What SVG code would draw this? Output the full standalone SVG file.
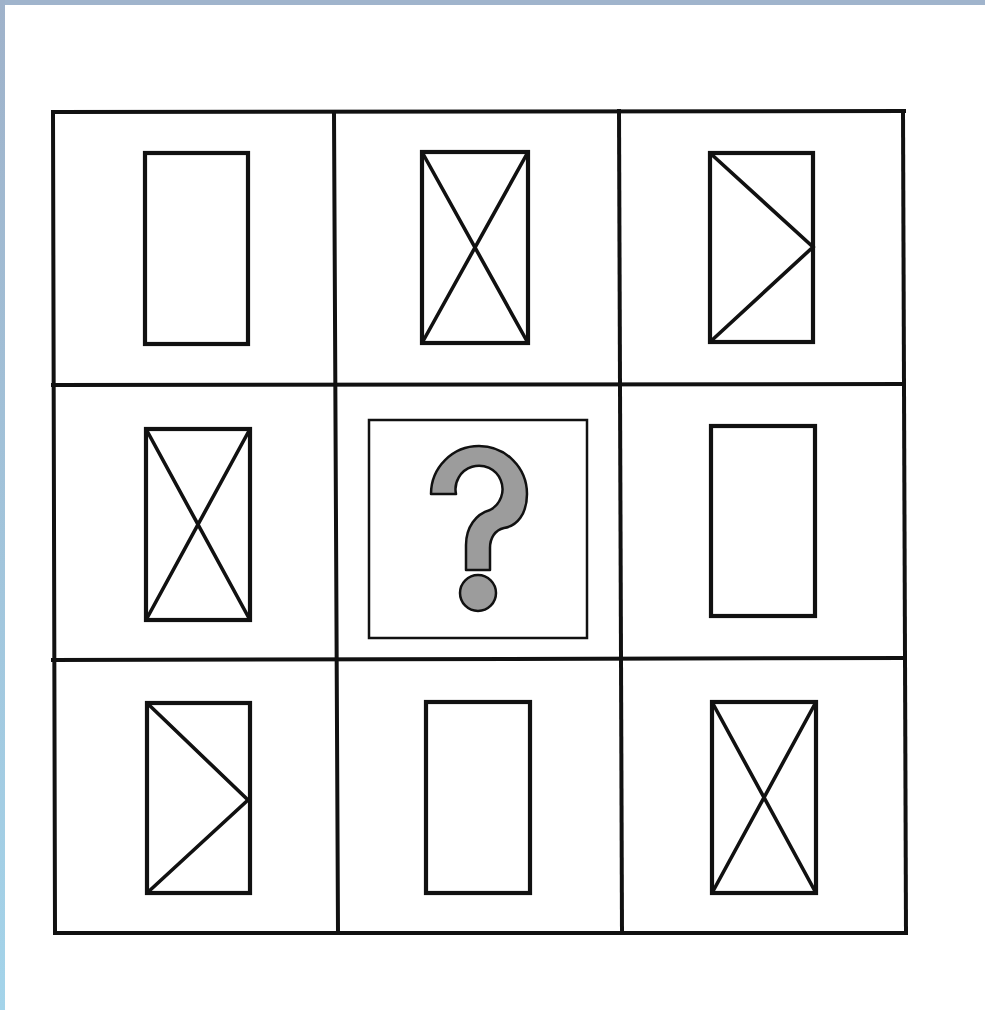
<svg xmlns="http://www.w3.org/2000/svg" width="985" height="1010" viewBox="0 0 985 1010">
<defs>
<linearGradient id="side" x1="0" y1="0" x2="0" y2="1">
<stop offset="0" stop-color="#9fb2ca"/>
<stop offset="1" stop-color="#a4d4ea"/>
</linearGradient>
<style>
.g{stroke:#111;stroke-width:4;fill:none;stroke-linecap:square}
.r{stroke:#111;stroke-width:4.2;fill:none}
.d{stroke:#111;stroke-width:3.6;fill:none;stroke-linecap:round}
.q{fill:#9c9c9c;stroke:#111;stroke-width:2.5;stroke-linejoin:round}
</style>
</defs>
<rect x="0" y="0" width="985" height="1010" fill="#ffffff"/>
<rect x="0" y="0" width="985" height="5" fill="#a0b4cc"/>
<rect x="0" y="0" width="5" height="1010" fill="url(#side)"/>

<g id="grid">
<line class="g" x1="53" y1="112" x2="904" y2="111"/>
<line class="g" x1="53" y1="385" x2="903" y2="384"/>
<line class="g" x1="53" y1="660" x2="904" y2="658"/>
<line class="g" x1="55" y1="933" x2="906" y2="933"/>
<line class="g" x1="53" y1="112" x2="55" y2="933"/>
<line class="g" x1="334" y1="112" x2="338" y2="933"/>
<line class="g" x1="619" y1="111" x2="622" y2="933"/>
<line class="g" x1="903" y1="111" x2="906" y2="933"/>
</g>

<g id="cell-1-1">
<rect class="r" x="145" y="153" width="103" height="191"/>
</g>
<g id="cell-1-2">
<rect class="r" x="422" y="152" width="106" height="191"/>
<line class="d" x1="422" y1="152" x2="528" y2="343"/>
<line class="d" x1="528" y1="152" x2="422" y2="343"/>
</g>
<g id="cell-1-3">
<rect class="r" x="710" y="153" width="103" height="189"/>
<polyline class="d" points="710,153 813,247 710,342"/>
</g>

<g id="cell-2-1">
<rect class="r" x="146" y="429" width="104" height="191"/>
<line class="d" x1="146" y1="429" x2="250" y2="620"/>
<line class="d" x1="250" y1="429" x2="146" y2="620"/>
</g>
<g id="cell-2-2">
<rect x="369" y="420" width="218" height="218" fill="#ffffff" stroke="#111" stroke-width="2.5"/>
<path class="q" d="M 431 494 A 48 48 0 0 1 527 494 C 527 514 517 526 504 528 C 495 530 490 538 490 548 L 490 570 L 466 570 L 466 545 C 466 527 476 514 490 510 A 23.5 23.5 0 1 0 456 494 Z"/>
<circle class="q" cx="478" cy="593" r="18"/>
</g>
<g id="cell-2-3">
<rect class="r" x="711" y="426" width="104" height="190"/>
</g>

<g id="cell-3-1">
<rect class="r" x="147" y="703" width="103" height="190"/>
<polyline class="d" points="147,703 248,800 147,893"/>
</g>
<g id="cell-3-2">
<rect class="r" x="426" y="702" width="104" height="191"/>
</g>
<g id="cell-3-3">
<rect class="r" x="712" y="702" width="104" height="191"/>
<line class="d" x1="712" y1="702" x2="816" y2="893"/>
<line class="d" x1="816" y1="702" x2="712" y2="893"/>
</g>
</svg>
